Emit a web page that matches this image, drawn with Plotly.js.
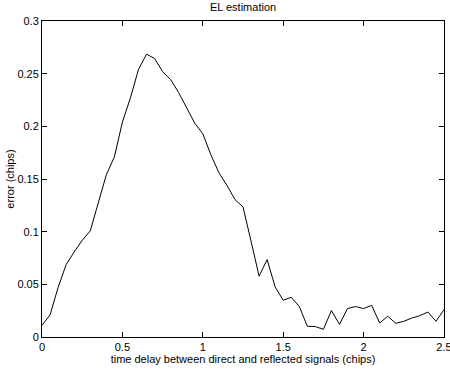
<!DOCTYPE html>
<html><head><meta charset="utf-8">
<script src="https://cdn.plot.ly/plotly-3.0.1.min.js"></script>
<style>html,body{margin:0;padding:0;background:#fff}#chart{width:450px;height:371px}</style>
</head><body><div id="chart"></div>
<script>
const delay = [0,0.05,0.1,0.15,0.2,0.25,0.3,0.35,0.4,0.45,0.5,0.55,0.6,0.65,0.7,0.75,0.8,0.85,0.9,0.95,1.0,1.05,1.1,1.15,1.2,1.25,1.3,1.35,1.4,1.45,1.5,1.55,1.6,1.65,1.7,1.75,1.8,1.85,1.9,1.95,2.0,2.05,2.1,2.15,2.2,2.25,2.3,2.35,2.4,2.45,2.5];
const errorVals = [0.011,0.021,0.047,0.0687,0.0807,0.0918,0.1007,0.127,0.154,0.171,0.204,0.227,0.254,0.2685,0.2644,0.252,0.2444,0.232,0.218,0.203,0.193,0.173,0.156,0.144,0.1305,0.1235,0.091,0.0577,0.0735,0.0475,0.0349,0.0377,0.029,0.0102,0.0099,0.0073,0.0251,0.012,0.027,0.0289,0.027,0.030,0.0133,0.0197,0.013,0.0149,0.018,0.0203,0.0237,0.0149,0.026];
const xTicks = [0,0.5,1,1.5,2,2.5];
const yTicks = [0,0.05,0.1,0.15,0.2,0.25,0.3];
const font = {family:'Liberation Sans, Arial, sans-serif', size:11, color:'#000'};
const axisCommon = {showline:true, linecolor:'#000', linewidth:1, mirror:'ticks', ticks:'inside', ticklen:5, tickcolor:'#000', showgrid:false, zeroline:false, tickfont:font, automargin:false};
Plotly.newPlot('chart', [{x:delay, y:errorVals, type:'scatter', mode:'lines', line:{color:'#000', width:1}}], {
  width:450, height:371,
  margin:{l:42, r:6, t:21, b:34},
  paper_bgcolor:'#fff', plot_bgcolor:'#fff',
  showlegend:false,
  font:font,
  title:{text:'EL estimation', font:font, x:0.54, xanchor:'center', y:0.99, yanchor:'top'},
  xaxis:Object.assign({}, axisCommon, {range:[0,2.5], tickvals:xTicks, ticktext:xTicks.map(String), ticklabeloverflow:'allow', title:{text:'time delay between direct and reflected signals (chips)', font:font, standoff:3}}),
  yaxis:Object.assign({}, axisCommon, {range:[0,0.3], tickvals:yTicks, ticktext:yTicks.map(String), title:{text:'error (chips)', font:font, standoff:0}})
}, {staticPlot:true, displayModeBar:false});
</script></body></html>
